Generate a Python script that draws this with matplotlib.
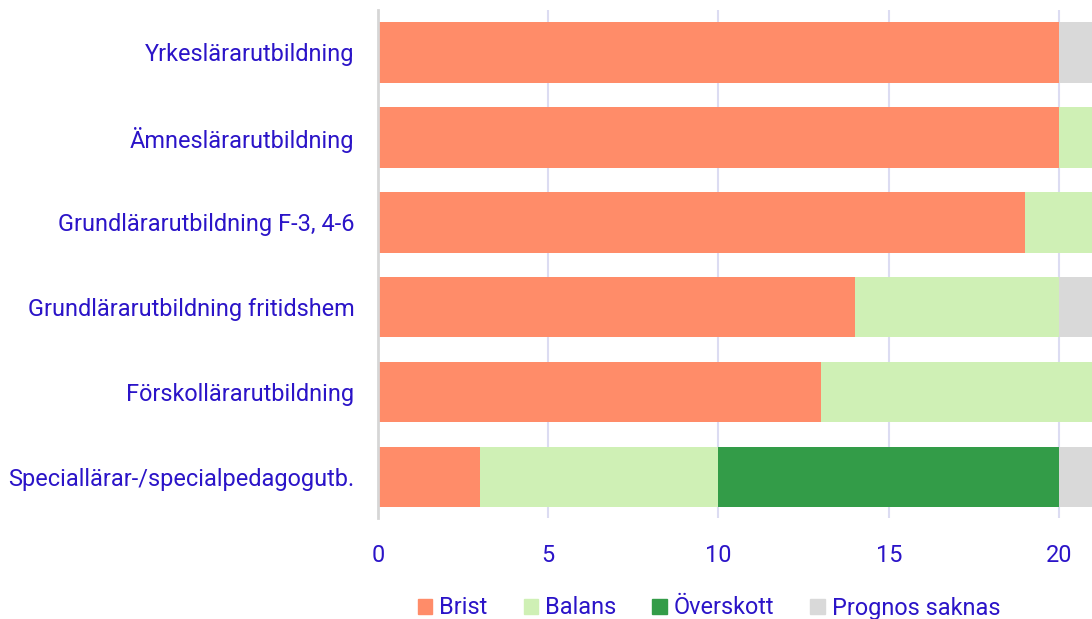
import numpy as np
import matplotlib.pyplot as plt
from matplotlib.patches import Patch

plt.rcParams['font.family'] = ['Roboto', 'DejaVu Sans']

categories = ['Speciallärar-/specialpedagogutb.',
              'Förskollärarutbildning',
              'Grundlärarutbildning fritidshem',
              'Grundlärarutbildning F-3, 4-6',
              'Ämneslärarutbildning',
              'Yrkeslärarutbildning']
brist = [3, 13, 14, 19, 20, 20]
balans = [7, 8, 6, 2, 1, 0]
overskott = [10, 0, 0, 0, 0, 0]
saknas = [1, 0, 1, 0, 0, 1]

series = ['Brist', 'Balans', 'Överskott', 'Prognos saknas']
colors = ['#ff8c69', '#cff0b5', '#339c48', '#d9d9d9']
text_col = '#2b14c8'
fs = 16.9

fig = plt.figure(figsize=(10.92, 6.19), dpi=100)
ax = fig.add_axes([378/1092, (619-518)/619, 1 - 378/1092, (518-10)/619])

y = np.arange(len(categories))
left = np.zeros(len(categories))
for vals, c, name in zip([brist, balans, overskott, saknas], colors, series):
    ax.barh(y, vals, left=left, height=0.71, color=c, label=name, zorder=2)
    left += np.array(vals)

ax.set_xlim(0, 20.97)
ax.set_ylim(-0.48, 5.5)
ax.set_yticks(y)
ax.set_yticklabels(categories)
ax.set_xticks([0, 5, 10, 15, 20])
ax.tick_params(axis='both', length=0, labelsize=fs, colors=text_col)
ax.tick_params(axis='y', pad=17)
ax.tick_params(axis='x', pad=19)
ax.xaxis.grid(True, color='#dcdcf2', linewidth=1.5, zorder=0)
for s in ['top', 'right', 'bottom']:
    ax.spines[s].set_visible(False)
ax.spines['left'].set_color('#d6d6d6')
ax.spines['left'].set_linewidth(2)
ax.spines['left'].set_zorder(3)

handles = [Patch(color=c) for c in colors]
fig.legend(handles, series, loc='center', bbox_to_anchor=(709/1092, 1 - 608/619),
           ncol=4, frameon=False, fontsize=fs, labelcolor=text_col,
           handlelength=0.6, handleheight=0.6, handletextpad=0.3, columnspacing=1.55,
           borderpad=0.2)

fig.savefig('out.png', dpi=100)
